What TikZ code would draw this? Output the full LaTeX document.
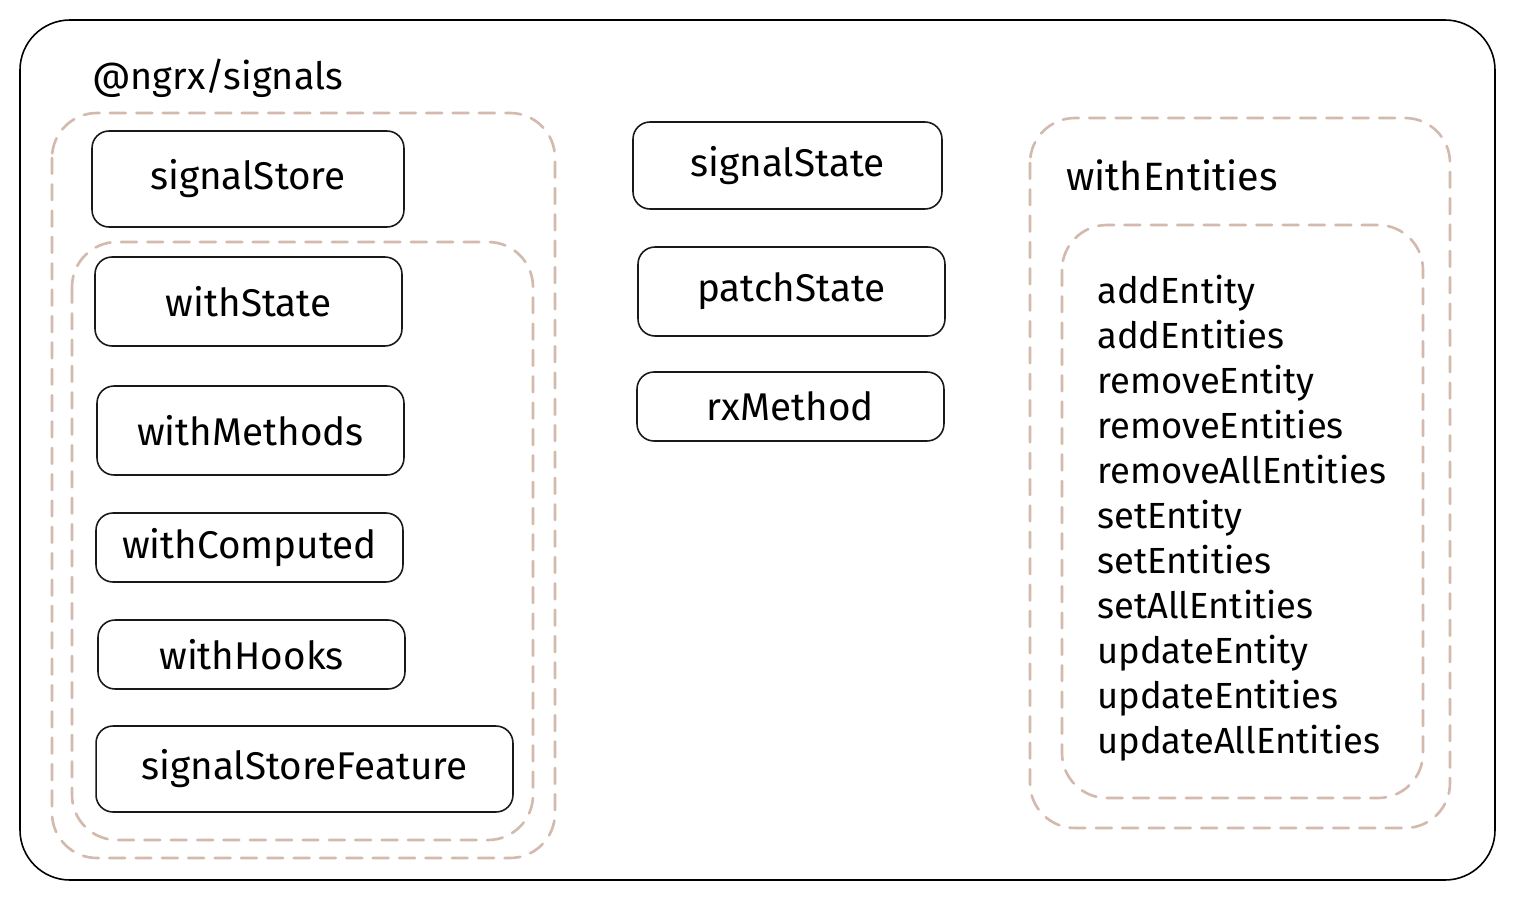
\documentclass[tikz,border=0pt]{standalone}
\usepackage{fontspec}
\setmainfont{Fira Sans}
\usetikzlibrary{positioning}
\definecolor{dashbrown}{HTML}{D3B9AE}
\tikzset{
  fnbox/.style={draw=black!90, line width=0.9pt, rounded corners=0.34cm, font=\fontsize{22}{26}\selectfont},
  groupline/.style={draw=dashbrown, line width=1.5pt, dash pattern=on 9pt off 6pt, rounded corners=0.9cm},
}
\begin{document}
\begin{tikzpicture}[line cap=round,line join=round,x=0.02cm,y=-0.02cm]
\useasboundingbox (0,0) rectangle (1515,900);
% outer frame
\draw[line width=0.9pt, rounded corners=1cm] (20,20) rectangle (1495,880);
\node[anchor=west, font=\fontsize{21.5}{26}\selectfont] (pkg) at (86,78) {@ngrx/signals};
% store group
\draw[groupline] (52,113) rectangle (555,858);
\draw[groupline] (72,242) rectangle (533,840);
\node[fnbox, minimum width=6.24cm, minimum height=1.92cm] (signalstore) at (248,179) {signalStore};
\node[fnbox, minimum width=6.14cm, minimum height=1.78cm] (withstate) at (248.5,301.5) {withState};
\node[fnbox, minimum width=6.14cm, minimum height=1.78cm] (withmethods) at (250.5,430.5) {withMethods};
\node[fnbox, minimum width=6.14cm, minimum height=1.38cm] (withcomputed) at (249.5,547.5) {withComputed};
\node[fnbox, minimum width=6.14cm, minimum height=1.38cm] (withhooks) at (251.5,654.5) {withHooks};
\node[fnbox, minimum width=8.34cm, minimum height=1.72cm] (storefeature) at (304.5,769) {signalStoreFeature};
% standalone helpers
\node[fnbox, minimum width=6.18cm, minimum height=1.74cm] (signalstate) at (787.5,165.5) {signalState};
\node[fnbox, minimum width=6.14cm, minimum height=1.78cm] (patchstate) at (791.5,291.5) {patchState};
\node[fnbox, minimum width=6.14cm, minimum height=1.38cm] (rxmethod) at (790.5,406.5) {rxMethod};
% entities group
\draw[groupline] (1030,118) rectangle (1450,828);
\draw[groupline] (1062,225) rectangle (1423,798);
\node[anchor=west, font=\fontsize{22.5}{26}\selectfont] (withentities) at (1060,175) {withEntities};
\node[anchor=north west, align=left, inner sep=0pt, font=\fontsize{20.7}{25.6}\selectfont] (updaters) at (1097,275) {addEntity\\addEntities\\removeEntity\\removeEntities\\removeAllEntities\\setEntity\\setEntities\\setAllEntities\\updateEntity\\updateEntities\\updateAllEntities};
\end{tikzpicture}
\end{document}
